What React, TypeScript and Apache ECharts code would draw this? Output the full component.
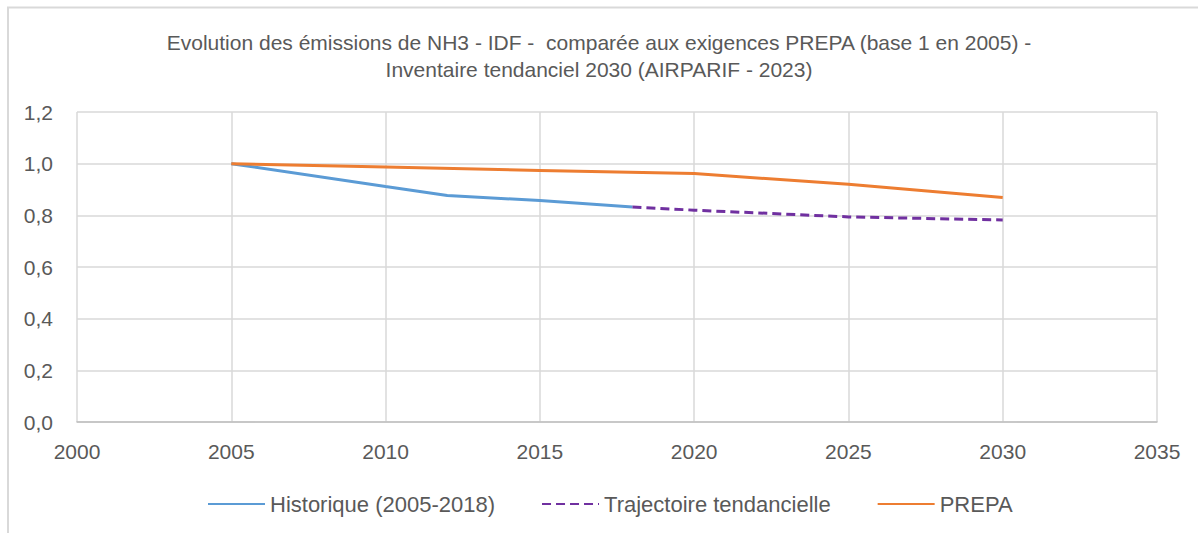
import React, { useEffect, useRef } from "react";
import * as echarts from "echarts";

const TITLE = "Evolution des émissions de NH3 - IDF -  comparée aux exigences PREPA (base 1 en 2005) -\nInventaire tendanciel 2030 (AIRPARIF - 2023)";

const historiqueYears = [2005, 2010, 2012, 2015, 2018];
const historiqueValues = [1.0, 0.912, 0.877, 0.857, 0.832];

const trajectoireYears = [2018, 2020, 2025, 2030];
const trajectoireValues = [0.832, 0.82, 0.794, 0.782];

const prepaYears = [2005, 2010, 2015, 2020, 2025, 2030];
const prepaValues = [1.0, 0.987, 0.974, 0.962, 0.92, 0.869];

const seriesNames = ["Historique (2005-2018)", "Trajectoire tendancielle", "PREPA"];

const TEXT = "#595959";
const GRID = "#d9d9d9";
const FONT = "Liberation Sans";

export default function App() {
  const ref = useRef<HTMLDivElement>(null);
  useEffect(() => {
    if (!ref.current) return;
    const chart = echarts.init(ref.current, null, { renderer: "svg" });
    const pairs = (xs: number[], ys: number[]) => xs.map((x, i) => [x, ys[i]]);
    chart.setOption({
      animation: false,
      backgroundColor: "#ffffff",
      textStyle: { fontFamily: FONT, color: TEXT },
      title: {
        text: TITLE,
        left: "center",
        top: 24,
        textStyle: { fontFamily: FONT, fontSize: 21, fontWeight: "normal", color: TEXT, lineHeight: 27 },
      },
      graphic: [
        {
          type: "line",
          shape: { x1: 8, y1: 7, x2: 8, y2: 533 },
          style: { stroke: GRID, lineWidth: 2 },
          silent: true,
          z: 100,
        },
        {
          type: "line",
          shape: { x1: 7, y1: 7.5, x2: 1198, y2: 7.5 },
          style: { stroke: GRID, lineWidth: 2 },
          silent: true,
          z: 100,
        },
      ],
      legend: {
        bottom: 13,
        left: 202,
        itemWidth: 57,
        itemHeight: 14,
        itemGap: 46,
        itemStyle: { opacity: 0 },
        textStyle: { fontFamily: FONT, fontSize: 22, color: TEXT },
        data: seriesNames,
      },
      grid: { left: 77, right: 41, top: 112, bottom: 111 },
      xAxis: {
        type: "value",
        min: 2000,
        max: 2035,
        interval: 5,
        axisLine: { show: true, lineStyle: { color: "#bfbfbf", width: 1.5 } },
        axisTick: { show: false },
        splitLine: { show: true, lineStyle: { color: GRID, width: 1.5 } },
        axisLabel: { fontFamily: FONT, fontSize: 21, color: TEXT, margin: 19, formatter: (v: number) => String(v) },
      },
      yAxis: {
        type: "value",
        min: 0,
        max: 1.2,
        interval: 0.2,
        axisLine: { show: false },
        axisTick: { show: false },
        splitLine: { show: true, lineStyle: { color: GRID, width: 1.5 } },
        axisLabel: {
          fontFamily: FONT,
          fontSize: 21,
          color: TEXT,
          margin: 24,
          formatter: (v: number) => v.toFixed(1).replace(".", ","),
        },
      },
      series: [
        {
          name: seriesNames[0],
          type: "line",
          symbol: "none",
          data: pairs(historiqueYears, historiqueValues),
          lineStyle: { color: "#5b9bd5", width: 3 },
          itemStyle: { color: "#5b9bd5" },
          z: 3,
        },
        {
          name: seriesNames[1],
          type: "line",
          symbol: "none",
          data: pairs(trajectoireYears, trajectoireValues),
          lineStyle: { color: "#7030a0", width: 3, type: [9, 5] },
          itemStyle: { color: "#7030a0" },
          z: 3,
        },
        {
          name: seriesNames[2],
          type: "line",
          symbol: "none",
          data: pairs(prepaYears, prepaValues),
          lineStyle: { color: "#ed7d31", width: 3 },
          itemStyle: { color: "#ed7d31" },
          z: 4,
        },
      ],
    });
    return () => chart.dispose();
  }, []);
  return <div ref={ref} style={{ position: "absolute", left: 0, top: 0, width: 1198, height: 533 }} />;
}
